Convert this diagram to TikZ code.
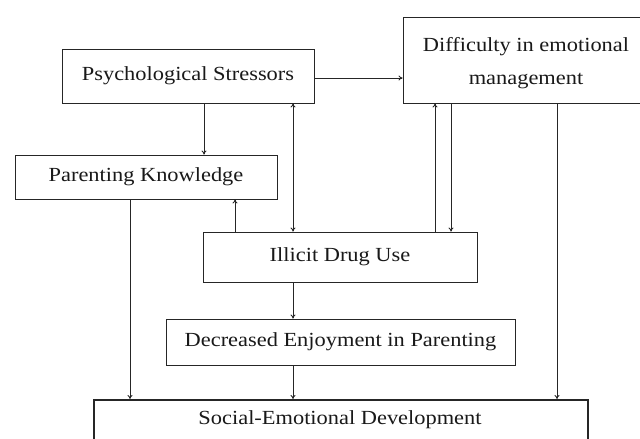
\documentclass[tikz,border=0pt]{standalone}
\usepackage{fontspec}
\setmainfont{Liberation Serif}[FakeStretch=1.12]
\usetikzlibrary{arrows.meta}
\begin{document}
\begin{tikzpicture}[x=1pt,y=-1pt,
  box/.style={draw=black!85, line width=0.9pt, inner sep=0pt, font=\fontsize{20}{33}\selectfont, text=black!90},
  arr/.style={draw=black!85, line width=0.9pt, -{To[length=4pt,width=5pt]}},
  darr/.style={draw=black!85, line width=0.9pt, {To[length=4pt,width=5pt]}-{To[length=4pt,width=5pt]}}]
\useasboundingbox (0,0) rectangle (640,439);
\clip (0,0) rectangle (640,439);
\fill[white] (0,0) rectangle (640,439);
\node[box, minimum width=252pt, minimum height=54pt] (PS) at (188,76) {Psychological Stressors};
\node[box, minimum width=262pt, minimum height=44pt] (PK) at (146,177) {Parenting Knowledge};
\node[box, minimum width=246pt, minimum height=86pt] (DEM) at (526,60) {};
\node[font=\fontsize{20}{33}\selectfont, text=black!90, align=center, inner sep=0pt] (DEMt) at (526,63) {Difficulty in emotional\\management};
\node[box, minimum width=274pt, minimum height=50pt] (IDU) at (340,257) {Illicit Drug Use};
\node[box, minimum width=349pt, minimum height=46pt] (DEP) at (340.5,342) {Decreased Enjoyment in Parenting};
\node[box, line width=2.4pt, minimum width=494pt, minimum height=60pt, anchor=north west] (SED) at (93,399) {};
\node[font=\fontsize{20}{24}\selectfont, text=black!90] (SEDt) at (340,420) {Social-Emotional Development};
\coordinate (xa) at (204,0);
\coordinate (xb) at (293,0);
\coordinate (xc) at (235,0);
\coordinate (xd) at (435,0);
\coordinate (xe) at (451,0);
\coordinate (xf) at (130,0);
\coordinate (xg) at (557,0);
\coordinate (ya) at (0,78);
\draw[arr] (PS.east |- ya) -- (DEM.west |- ya);
\draw[arr] (PS.south -| xa) -- (PK.north -| xa);
\draw[darr] (PS.south -| xb) -- (IDU.north -| xb);
\draw[arr] (IDU.north -| xc) -- (PK.south -| xc);
\draw[arr] (IDU.north -| xd) -- (DEM.south -| xd);
\draw[arr] (DEM.south -| xe) -- (IDU.north -| xe);
\draw[arr] (PK.south -| xf) -- (SED.north -| xf);
\draw[arr] (IDU.south -| xb) -- (DEP.north -| xb);
\draw[arr] (DEP.south -| xb) -- (SED.north -| xb);
\draw[arr] (DEM.south -| xg) -- (SED.north -| xg);
\end{tikzpicture}
\end{document}
